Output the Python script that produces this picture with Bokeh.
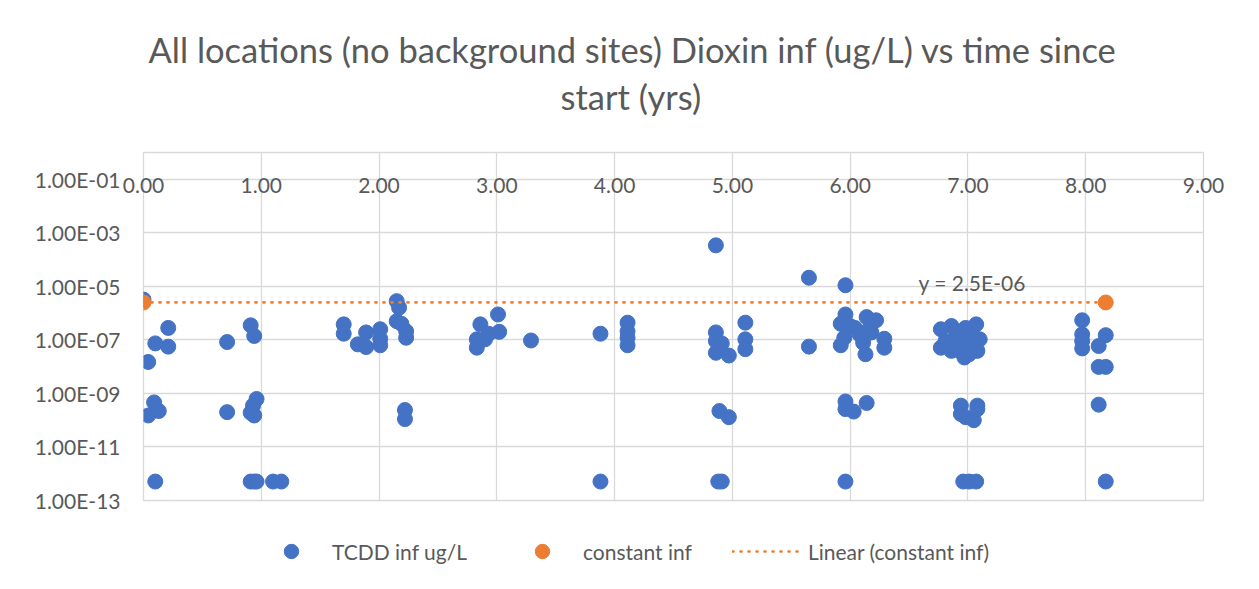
from bokeh.plotting import figure
from bokeh.layouts import column
from bokeh.models import (Range1d, FixedTicker, CustomJSTickFormatter, Legend, LegendItem,
                          LinearAxis, Title)
from bokeh.core.properties import value
from bokeh.embed import file_html
from bokeh.resources import INLINE

# ---- data ----
tcdd_x = [0.00, 0.21, 0.10, 0.21, 0.04, 0.09, 0.13, 0.04, 0.10,
          0.71, 0.71, 0.91, 0.94, 0.96, 0.93, 0.91, 0.94, 0.91, 0.94, 0.96, 1.10, 1.17,
          1.70, 1.70, 1.89, 1.82, 1.89, 2.01, 2.01, 2.01, 2.15, 2.17, 2.15, 2.19, 2.23, 2.23, 2.22, 2.22,
          2.86, 2.83, 2.83, 2.90, 2.93, 3.01, 3.02, 3.29, 3.88, 3.88,
          4.11, 4.11, 4.11, 4.11, 4.86, 4.86, 4.86, 4.91, 4.86, 4.97, 4.89, 4.97, 4.88, 4.91,
          5.11, 5.11, 5.11, 5.65, 5.65,
          5.96, 5.96, 5.92, 6.00, 6.04, 6.14, 6.22, 6.14, 6.08, 6.18, 6.29, 6.29, 5.95, 5.92,
          6.13, 6.11, 5.96, 5.96, 6.03, 6.14, 5.96,
          6.77, 6.86, 6.77, 6.81, 6.86, 6.90, 6.96, 6.98, 6.97, 7.03, 7.07, 7.10, 7.08, 6.93,
          7.01, 6.90, 7.04, 6.93, 7.00, 6.97,
          6.94, 7.08, 6.94, 6.98, 7.05, 7.08, 6.96, 7.01, 7.07,
          7.97, 7.97, 7.97, 7.97, 8.17, 8.11, 8.11, 8.17, 8.11, 8.17]
tcdd_y = [3.2e-6, 2.8e-7, 7.4e-8, 5.6e-8, 1.5e-8, 4.6e-10, 2.2e-10, 1.5e-10, 5.1e-13,
          8.3e-8, 2.0e-10, 3.5e-7, 1.4e-7, 6.2e-10, 3.5e-10, 1.9e-10, 1.5e-10, 5.1e-13, 5.1e-13, 5.1e-13, 5.1e-13, 5.1e-13,
          3.8e-7, 1.7e-7, 1.9e-7, 6.8e-8, 5.4e-8, 2.5e-7, 1.1e-7, 6.3e-8, 2.8e-6, 1.6e-6, 5.0e-7, 4.0e-7, 2.1e-7, 1.2e-7, 2.4e-10, 1.1e-10,
          3.8e-7, 1.05e-7, 5.1e-8, 1.05e-7, 1.7e-7, 8.9e-7, 2.0e-7, 9.5e-8, 1.7e-7, 5.1e-13,
          4.4e-7, 2.1e-7, 1.2e-7, 6.3e-8, 3.4e-4, 1.9e-7, 9.1e-8, 7.4e-8, 3.3e-8, 2.6e-8, 2.2e-10, 1.3e-10, 5.1e-13, 5.1e-13,
          4.4e-7, 1.05e-7, 4.5e-8, 2.1e-5, 5.6e-8,
          1.1e-5, 8.9e-7, 4.0e-7, 3.3e-7, 2.8e-7, 7.1e-7, 5.4e-7, 2.1e-7, 1.6e-7, 1.9e-7, 1.1e-7, 5.1e-8, 1.2e-7, 6.3e-8,
          2.9e-8, 7.9e-8, 5.0e-10, 2.6e-10, 2.1e-10, 4.4e-10, 5.1e-13,
          2.5e-7, 3.3e-7, 5.1e-8, 9.1e-8, 3.9e-8, 6.8e-8, 1.9e-7, 2.8e-7, 2.2e-8, 5.1e-8, 3.8e-7, 1.05e-7, 3.9e-8, 3.9e-8,
          2.9e-8, 1.4e-7, 1.2e-7, 1.0e-7, 7.1e-8, 1.26e-7,
          3.5e-10, 3.5e-10, 1.7e-10, 1.3e-10, 1.0e-10, 2.6e-10, 5.1e-13, 5.1e-13, 5.1e-13,
          5.4e-7, 1.6e-7, 9.1e-8, 4.8e-8, 1.5e-7, 5.9e-8, 9.8e-9, 9.8e-9, 3.8e-10, 5.1e-13]
const_x = [0.0, 8.17]
const_y = [2.5e-6, 2.5e-6]

x_ticks = [0, 1, 2, 3, 4, 5, 6, 7, 8, 9]
y_ticks = [1e-13, 1e-11, 1e-9, 1e-7, 1e-5, 1e-3, 1e-1]
title_lines = ["All locations (no background sites) Dioxin inf (ug/L) vs time since", "start (yrs)"]
trend_label = "y = 2.5E-06"
series_names = ["TCDD inf ug/L", "constant inf", "Linear (constant inf)"]

BLUE = "#4472C4"
ORANGE = "#ED7D31"
GRID = "#D9D9D9"
TXT = "#595959"
FONT = "Lato"

p = figure(width=1259, height=520, y_axis_type="log", x_axis_location=None,
           output_backend="svg", toolbar_location=None,
           x_range=Range1d(0, 9), y_range=Range1d(1e-13, 1e0),
           min_border_left=143, min_border_right=56, min_border_top=152, min_border_bottom=20)

xaxis = LinearAxis(ticker=FixedTicker(ticks=x_ticks),
                   formatter=CustomJSTickFormatter(code="return tick.toFixed(2);"))
xaxis.axis_line_color = None
xaxis.major_tick_line_color = None
xaxis.minor_tick_line_color = None
xaxis.major_label_standoff = -46
xaxis.major_label_text_font = FONT
xaxis.major_label_text_font_size = "21px"
xaxis.major_label_text_color = TXT
p.add_layout(xaxis, "above")

for txt, so, off in [(title_lines[1], 72, 417), (title_lines[0], -64, 5)]:
    t = Title(text=txt, align="left", offset=off, standoff=so, text_font=FONT,
              text_font_size="34.5px", text_font_style="normal", text_color=TXT)
    p.add_layout(t, "above")

ya = p.yaxis[0]
ya.ticker = FixedTicker(ticks=y_ticks)
ya.formatter = CustomJSTickFormatter(code="""
const e = Math.round(Math.log10(tick));
const s = e < 0 ? '-' : '+';
return '1.00E' + s + String(Math.abs(e)).padStart(2, '0');
""")
ya.axis_line_color = None
ya.major_tick_line_color = None
ya.minor_tick_line_color = None
ya.major_label_standoff = 17
ya.major_label_text_font = FONT
ya.major_label_text_font_size = "21px"
ya.major_label_text_color = TXT

p.xgrid.ticker = FixedTicker(ticks=x_ticks)
p.xgrid.grid_line_color = GRID
p.xgrid.grid_line_width = 1.3
p.ygrid.grid_line_color = GRID
p.ygrid.grid_line_width = 1.3
p.outline_line_color = GRID
p.outline_line_width = 1.3
p.background_fill_color = "white"
p.border_fill_color = "white"

p.scatter(tcdd_x, tcdd_y, size=15, fill_color=BLUE, line_color=BLUE)
p.line(const_x, const_y, line_color=ORANGE, line_width=2.7, line_dash="1 7", line_cap="round")
p.scatter(const_x, const_y, size=15, fill_color=ORANGE, line_color=ORANGE)

p.text(x=[6.58], y=[1.4e-5], text=[trend_label], text_font=value(FONT), text_font_size="21px",
       text_color=TXT, text_align="left", text_baseline="middle")

# ---- legend strip (same series, drawn outside its visible range, used only for the key) ----
lg = figure(width=1259, height=69, output_backend="svg", toolbar_location=None,
            x_range=Range1d(100, 101), y_range=Range1d(100, 101),
            min_border=0, min_border_left=0, min_border_right=0, min_border_top=0, min_border_bottom=0)
lg.axis.visible = False
lg.grid.visible = False
lg.outline_line_color = None
lg.border_fill_color = "white"
lg.background_fill_color = "white"
lb = lg.scatter(tcdd_x, tcdd_y, size=15, fill_color=BLUE, line_color=BLUE)
lo = lg.scatter(const_x, const_y, size=15, fill_color=ORANGE, line_color=ORANGE)
ll = lg.line(const_x, const_y, line_color=ORANGE, line_width=2.7, line_dash="1 7", line_cap="round")
legend = Legend(items=[LegendItem(label=series_names[0], renderers=[lb]),
                       LegendItem(label=series_names[1], renderers=[lo]),
                       LegendItem(label=series_names[2], renderers=[ll])],
                orientation="horizontal", location=(113, 20), margin=0,
                glyph_width=70, glyph_height=36, label_standoff=6, spacing=40, padding=0,
                label_text_font=FONT, label_text_font_size="21px", label_text_color=TXT,
                border_line_alpha=0, background_fill_alpha=0)
lg.add_layout(legend, "center")

layout = column(p, lg, spacing=0)
open("out.html", "w").write(file_html(layout, INLINE))
